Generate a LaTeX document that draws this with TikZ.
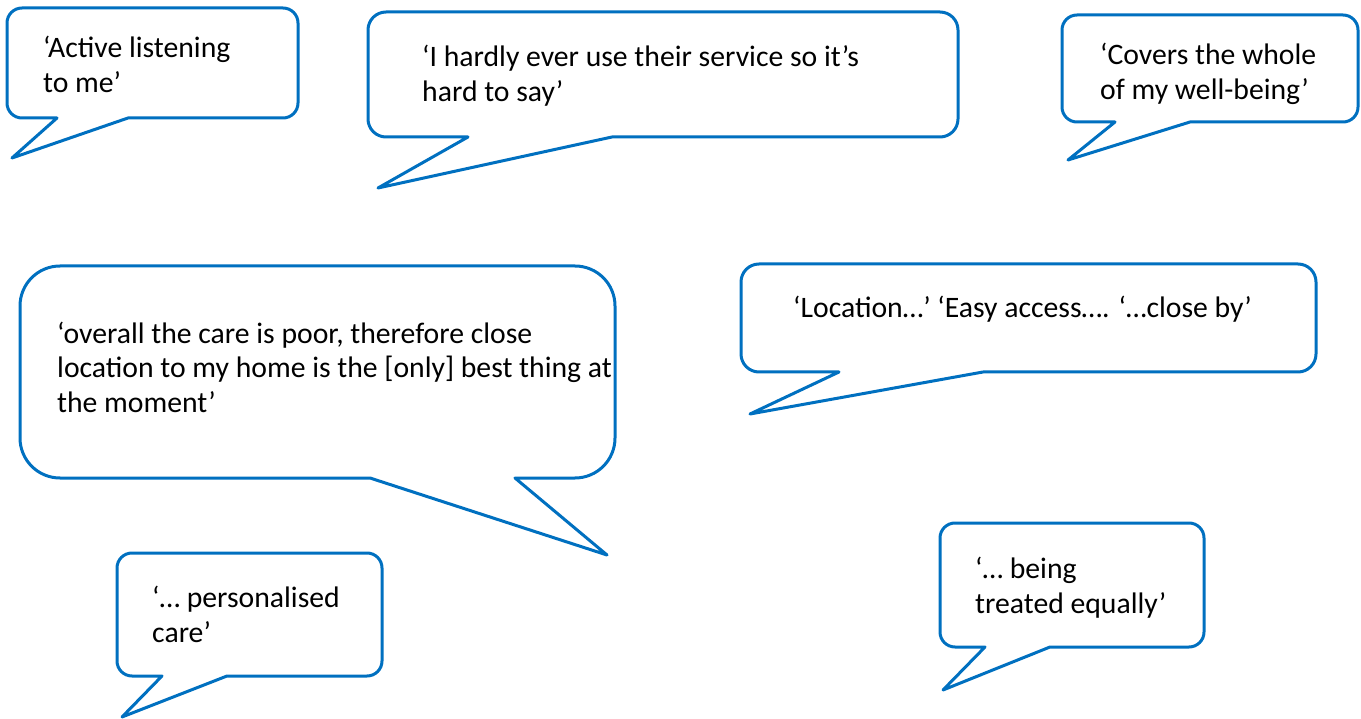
\documentclass[tikz,border=0pt]{standalone}
\usepackage{fontspec}
\setmainfont{Carlito}
\definecolor{bubbleblue}{RGB}{0,112,192}

\begin{document}
\begin{tikzpicture}[x=1pt, y=-1pt,
    bubble/.style={draw=bubbleblue, line width=3pt, line join=round, fill=white},
    quote/.style={anchor=base west, inner sep=0pt, align=left,
        font=\fontsize{29.7}{35}\selectfont}]
    \useasboundingbox (0,0) rectangle (1361,719);

    % Bocadillo arriba izquierda
    \draw[bubble] (12,158) -- (57,118) [rounded corners=15pt] -- (7,118) -- (7,8) -- (298,8) -- (298,118) [sharp corners] -- (128,118) -- cycle;
    \node[quote] (listening) at (43,93) {‘Active listening\\to me’};

    % Bocadillo arriba centro
    \draw[bubble] (378,188) -- (468,137) [rounded corners=18pt] -- (368,137) -- (368,12) -- (958,12) -- (958,137) [sharp corners] -- (612,137) -- cycle;
    \node[quote] (service) at (422,102) {‘I hardly ever use their service so it’s\\hard to say’};

    % Bocadillo arriba derecha
    \draw[bubble] (1068,160) -- (1115,122) [rounded corners=15pt] -- (1062,122) -- (1062,15) -- (1358,15) -- (1358,122) [sharp corners] -- (1190,122) -- cycle;
    \node[quote] (wellbeing) at (1100,100) {‘Covers the whole\\of my well-being’};

    % Bocadillo grande
    \draw[bubble] (607,555) -- (515,478) [rounded corners=40pt] -- (615,478) -- (615,266) -- (20,266) -- (20,478) [sharp corners] -- (370,478) -- cycle;
    \node[quote] (care) at (57,413) {‘overall the care is poor, therefore close\\location to my home is the [only] best thing at\\the moment’};

    % Bocadillo derecha
    \draw[bubble] (750,414) -- (839,372) [rounded corners=18pt] -- (741,372) -- (741,264) -- (1316,264) -- (1316,372) [sharp corners] -- (983,372) -- cycle;
    \node[quote] (location) at (793,318) {‘Location…’ ‘Easy access…. ‘…close by’};

    % Bocadillo abajo izquierda
    \draw[bubble] (122,717) -- (162,676) [rounded corners=15pt] -- (117,676) -- (117,553) -- (382,553) -- (382,676) [sharp corners] -- (227,676) -- cycle;
    \node[quote] (personal) at (152,642) {‘… personalised\\care’};

    % Bocadillo abajo derecha
    \draw[bubble] (943,690) -- (985,647) [rounded corners=15pt] -- (940,647) -- (940,523) -- (1204,523) -- (1204,647) [sharp corners] -- (1050,647) -- cycle;
    \node[quote] (equal) at (975,613) {‘… being\\treated equally’};
\end{tikzpicture}
\end{document}
